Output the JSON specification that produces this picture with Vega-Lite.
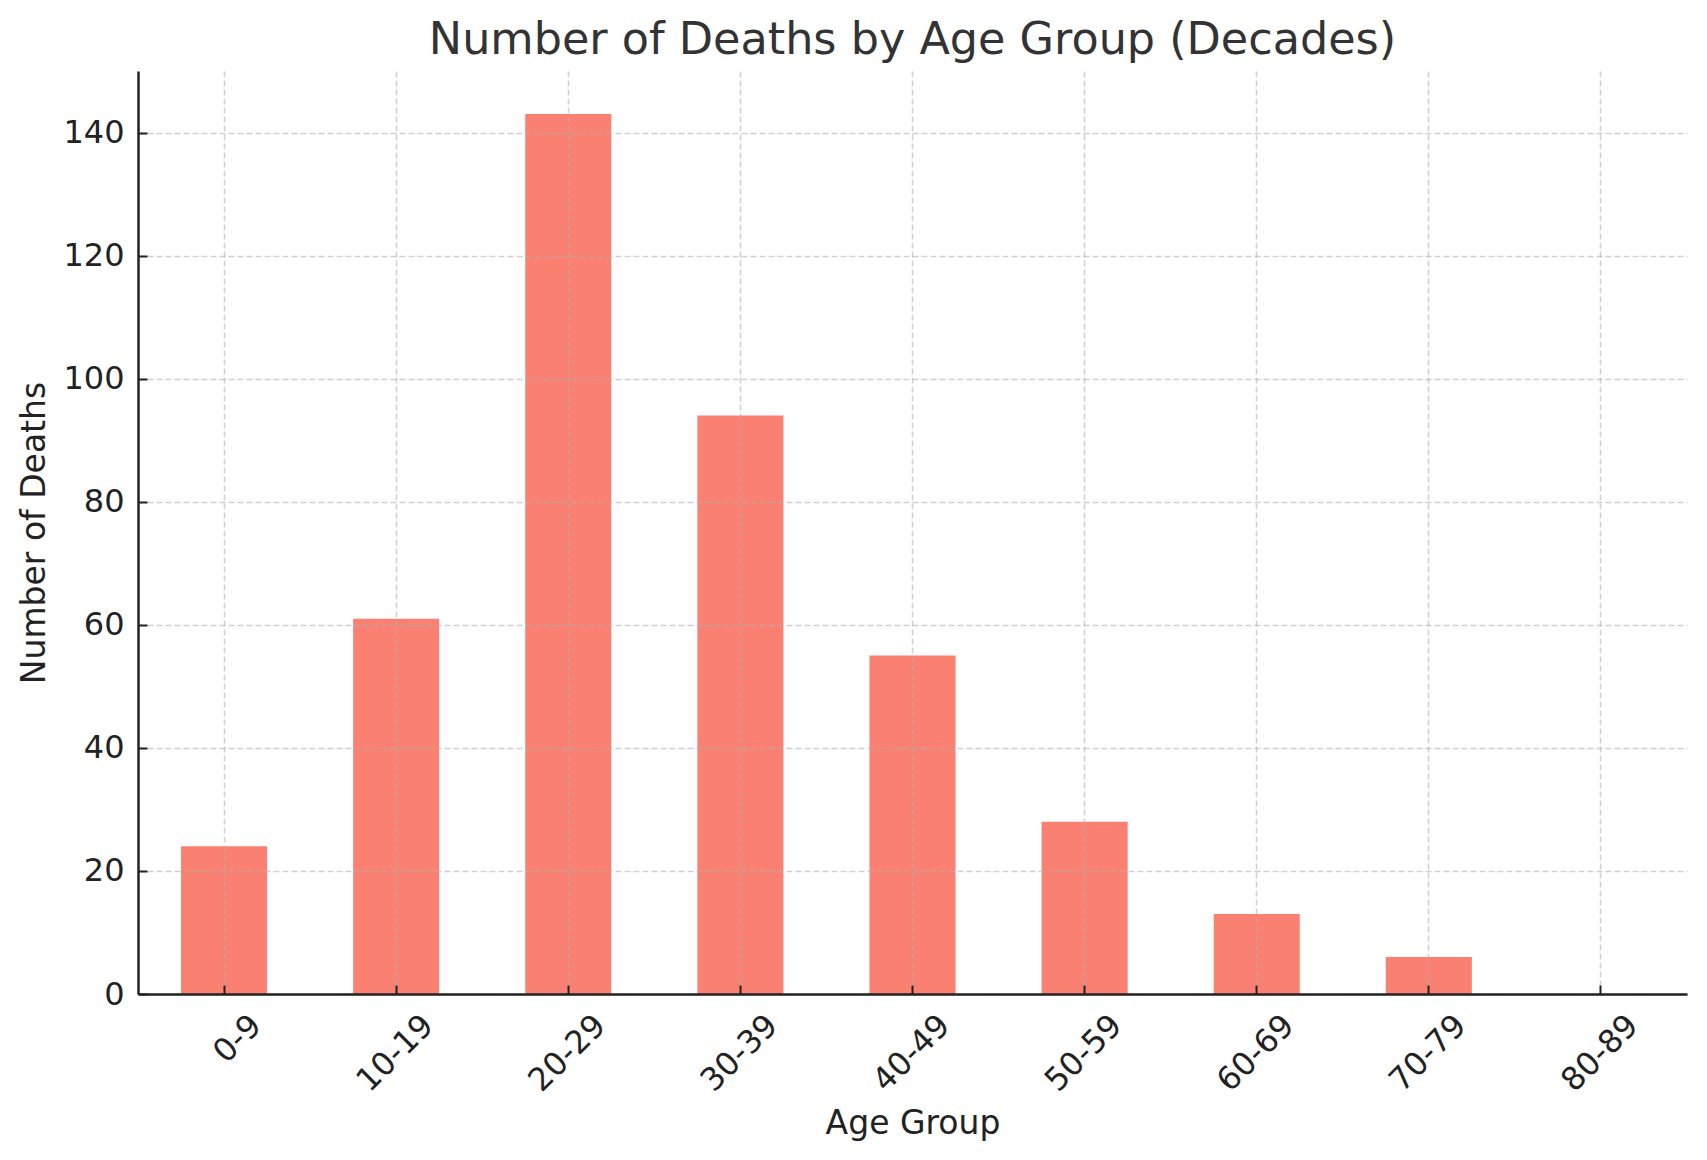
{
  "$schema": "https://vega.github.io/schema/vega-lite/v6.json",
  "autosize": {"type": "none"},
  "width": 1549,
  "height": 923,
  "padding": {"left": 138, "top": 71, "right": 20, "bottom": 166},
  "background": "white",
  "config": {
    "view": {"stroke": null},
    "font": "DejaVu Sans"
  },
  "title": {
    "text": "Number of Deaths by Age Group (Decades)",
    "font": "DejaVu Sans",
    "fontSize": 44.5,
    "fontWeight": "normal",
    "color": "#333333",
    "anchor": "middle",
    "baseline": "alphabetic",
    "offset": -27
  },
  "data": {
    "values": [
      {"age": "0-9", "deaths": 24},
      {"age": "10-19", "deaths": 61},
      {"age": "20-29", "deaths": 143},
      {"age": "30-39", "deaths": 94},
      {"age": "40-49", "deaths": 55},
      {"age": "50-59", "deaths": 28},
      {"age": "60-69", "deaths": 13},
      {"age": "70-79", "deaths": 6},
      {"age": "80-89", "deaths": 0}
    ]
  },
  "resolve": {"axis": {"x": "independent", "y": "independent"}},
  "layer": [
    {
      "mark": {"type": "bar", "color": "#FA8072"},
      "encoding": {
        "x": {
          "field": "age",
          "type": "nominal",
          "sort": null,
          "scale": {"paddingInner": 0.5, "paddingOuter": 0.25},
          "axis": {
            "orient": "bottom",
            "title": "Age Group",
            "titleFont": "DejaVu Sans",
            "titleFontSize": 33,
            "titleFontWeight": "normal",
            "titleColor": "#222222",
            "titlePadding": 10,
            "labelFont": "DejaVu Sans",
            "labelFontSize": 32,
            "labelColor": "#222222",
            "labelAngle": -45,
            "labelAlign": "right",
            "labelBaseline": "middle",
            "labelOffset": 32,
            "labelPadding": 26,
            "ticks": false,
            "tickSize": 0,
            "domainColor": "#222222",
            "domainWidth": 2.5,
            "bandPosition": 0.5,
            "grid": true,
            "gridColor": "#b0b0b0",
            "gridOpacity": 0.6,
            "gridDash": [6, 3],
            "gridWidth": 1.5,
            "zindex": 1
          }
        },
        "y": {
          "field": "deaths",
          "type": "quantitative",
          "scale": {"domain": [0, 150], "nice": false},
          "axis": {
            "orient": "left",
            "title": "Number of Deaths",
            "titleFont": "DejaVu Sans",
            "titleFontSize": 33,
            "titleFontWeight": "normal",
            "titleColor": "#222222",
            "titlePadding": 11,
            "values": [0, 20, 40, 60, 80, 100, 120, 140],
            "labelFont": "DejaVu Sans",
            "labelFontSize": 32,
            "labelColor": "#222222",
            "labelPadding": 14,
            "ticks": false,
            "tickSize": 0,
            "domainColor": "#222222",
            "domainWidth": 2.5,
            "grid": true,
            "gridColor": "#b0b0b0",
            "gridOpacity": 0.6,
            "gridDash": [6, 3],
            "gridWidth": 1.5,
            "zindex": 1
          }
        }
      }
    },
    {
      "mark": {"type": "bar", "opacity": 0},
      "encoding": {
        "x": {
          "field": "age",
          "type": "nominal",
          "sort": null,
          "axis": {
            "orient": "top",
            "offset": -923,
            "title": null,
            "labels": false,
            "domain": false,
            "grid": false,
            "ticks": true,
            "tickSize": 9,
            "tickWidth": 2,
            "tickColor": "#222222",
            "bandPosition": 0.5,
            "zindex": 2
          }
        },
        "y": {
          "field": "deaths",
          "type": "quantitative",
          "axis": {
            "orient": "right",
            "offset": -1549,
            "title": null,
            "values": [0, 20, 40, 60, 80, 100, 120, 140],
            "labels": false,
            "domain": false,
            "grid": false,
            "ticks": true,
            "tickSize": 9,
            "tickWidth": 2,
            "tickColor": "#222222",
            "zindex": 2
          }
        }
      }
    }
  ]
}
